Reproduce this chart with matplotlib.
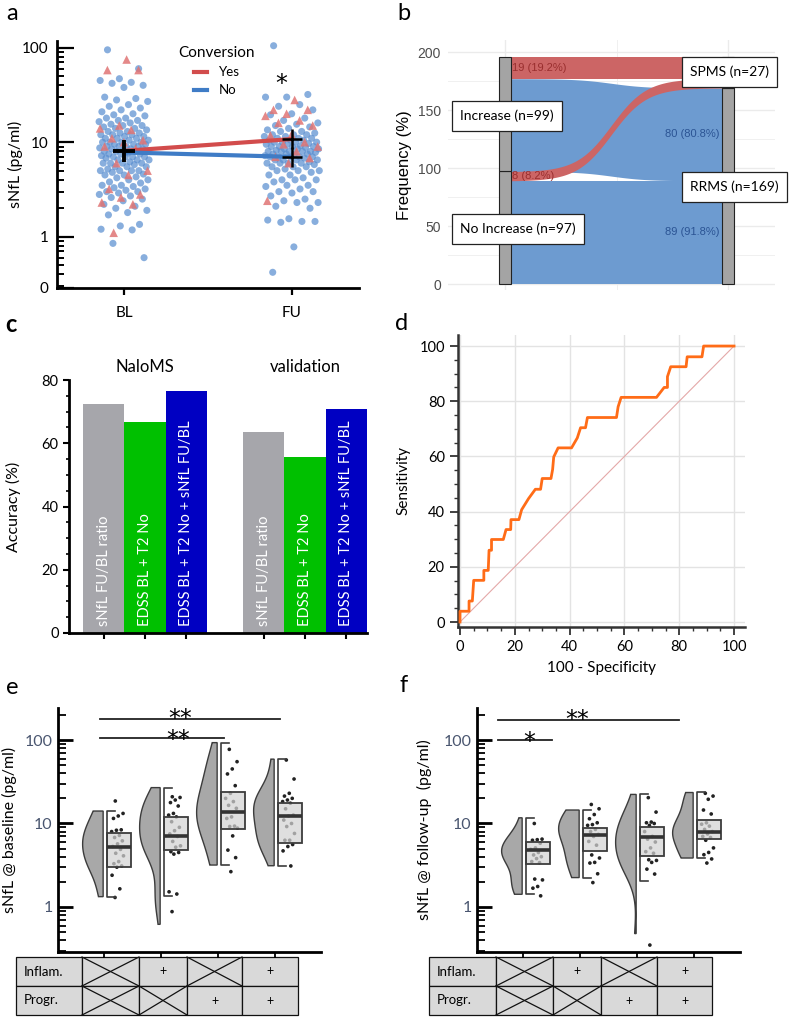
import numpy as np
import matplotlib
matplotlib.use('Agg')
import matplotlib.pyplot as plt
from matplotlib.lines import Line2D
from matplotlib.patches import Rectangle, Polygon
from matplotlib.ticker import LogLocator, NullFormatter, FixedLocator, MultipleLocator

plt.rcParams['font.family'] = ['Lato', 'DejaVu Sans']

# ---------------- panel a: sNfL at BL / FU by conversion
a_bl_no = [95, 60, 47, 45, 43, 42, 40, 38, 30, 29, 28, 27, 25, 24, 23, 22, 21, 20,
           19.5, 19, 18, 18, 17, 17, 16.5, 16, 15.5, 15, 15, 14.5, 14, 14, 13.5, 13,
           13, 12.5, 12.5, 12, 12, 12, 11.5, 11.5, 11, 11, 11, 10.5, 10.5, 10, 10, 10,
           10, 9.5, 9.5, 9.5, 9, 9, 9, 9, 8.7, 8.5, 8.5, 8.5, 8.2, 8, 8, 8, 8, 7.7,
           7.5, 7.5, 7.5, 7.2, 7, 7, 7, 7, 6.8, 6.5, 6.5, 6.5, 6.2, 6, 6, 6, 6, 5.8,
           5.5, 5.5, 5.5, 5.2, 5, 5, 5, 5, 4.8, 4.6, 4.5, 4.5, 4.3, 4.2, 4, 4, 3.8,
           3.7, 3.5, 3.5, 3.4, 3.3, 3.2, 3.1, 3, 3, 2.9, 2.8, 2.7, 2.6, 2.5, 2.4, 2.2,
           2.1, 2.0, 1.9, 1.8, 1.7, 1.35, 1.3, 1.2, 1.18, 0.85, 0.6]
a_bl_yes = [75, 58, 58, 15, 14, 13.5, 11, 10.5, 10, 9, 8.5, 6, 5, 4.5, 3.2, 2.8,
            2.6, 2.3, 2.2, 1.1]
a_fu_no = [105, 32, 30, 30, 25, 24, 22, 20, 19.5, 18, 17, 16, 15.5, 15, 14.5, 14,
           13.5, 13, 13, 12.5, 12, 12, 12, 11.5, 11.5, 11, 11, 11, 10.5, 10.5, 10.5,
           10, 10, 10, 10, 9.7, 9.5, 9.5, 9.2, 9, 9, 9, 9, 8.8, 8.5, 8.5, 8.5, 8.2, 8,
           8, 8, 8, 8, 7.8, 7.5, 7.5, 7.5, 7.5, 7.2, 7, 7, 7, 7, 7, 6.8, 6.5, 6.5,
           6.5, 6.5, 6.2, 6, 6, 6, 6, 5.8, 5.5, 5.5, 5.5, 5.2, 5, 5, 5, 4.8, 4.5, 4.5,
           4.2, 4, 4, 4, 3.8, 3.5, 3.5, 3.4, 3.2, 3, 3, 2.9, 2.7, 2.5, 2.4, 2.3, 2.3,
           2.1, 2.0, 1.55, 1.5, 1.45, 1.42, 1.45, 0.78, 0.42]
a_fu_yes = [28, 22, 22, 20, 19, 17, 16, 15, 12, 11.8, 10, 9.5, 9, 8, 7, 6.8, 6, 2.4]
a_times = ['BL', 'FU']
a_mean_yes = [8.1, 10.8]
a_mean_no = [7.8, 7.0]

# ---------------- panel b: alluvial
b_left = ['No Increase', 'Increase']
b_left_n = [97, 99]
b_right = ['RRMS', 'SPMS']
b_right_n = [169, 27]
b_flow_from = ['No Increase', 'No Increase', 'Increase', 'Increase']
b_flow_to = ['RRMS', 'SPMS', 'RRMS', 'SPMS']
b_flow_n = [89, 8, 80, 19]
b_flow_label = ['89 (91.8%)', '8 (8.2%)', '80 (80.8%)', '19 (19.2%)']

# ---------------- panel c: accuracy
c_groups = ['NaloMS', 'validation']
c_models = ['sNfL FU/BL ratio', 'EDSS BL + T2 No', 'EDSS BL + T2 No + sNfL FU/BL']
c_naloms = [72.4, 66.7, 76.5]
c_validation = [63.5, 55.6, 70.8]

# ---------------- panel d: ROC
roc_fpr = [0, 0, 3.3, 3.3, 4.5, 5.0, 8.7, 8.7, 10.3, 10.6, 11.5, 11.5, 15.8, 16.8,
           18.5, 18.6, 21.5, 22.5, 25, 27.5, 29.4, 30, 33.2, 33.8, 34.2, 35.8, 40.7,
           42.8, 44, 45.8, 46.5, 57.1, 57.7, 58.8, 71.7, 74.5, 75.7, 75.7, 76.9, 82.5,
           82.9, 88.3, 88.9, 100]
roc_tpr = [0, 3.9, 3.9, 7.6, 7.6, 15.1, 15.1, 18.7, 18.7, 26, 26, 29.9, 29.9, 33.5,
           33.5, 37.1, 37.1, 40.7, 44.7, 48.1, 48.1, 52, 52, 55.3, 59.8, 63.1, 63.1,
           66.7, 70.4, 70.4, 74.1, 74.1, 78, 81.4, 81.4, 85, 85, 88.9, 92.5, 92.5,
           96.1, 96.1, 100, 100]

# ---------------- panels e / f: raincloud per group
e_points = [
    [18.6, 13.2, 12.3, 11.5, 8.4, 8.3, 8.0, 7.2, 6.8, 6.2, 5.7, 5.3, 4.9, 4.4, 4.1,
     3.5, 3.3, 3.1, 3.0, 2.4, 1.65, 1.3],
    [20.9, 20.5, 19.1, 17.8, 16.2, 13.2, 12.6, 12.0, 10.5, 9.0, 8.2, 7.5, 7.0, 6.1,
     5.4, 5.2, 4.6, 4.5, 4.3, 1.52, 1.43, 0.88],
    [77.3, 55, 45, 39.2, 28.4, 23.0, 20.0, 18.3, 16.5, 15.2, 12.0, 11.5, 9.3, 9.2,
     8.8, 7.1, 4.8, 3.9, 2.65],
    [57.6, 34.1, 23.0, 21.3, 20.0, 19.1, 18.3, 17.5, 15.0, 12.6, 12.3, 11.0, 10.0,
     9.2, 7.6, 6.3, 6.3, 5.6, 5.3, 4.7, 3.1],
]
e_box = [(3.03, 5.27, 7.76, 1.33, 14.1), (4.82, 7.1, 11.8, 1.37, 26.9),
         (8.5, 13.8, 24.0, 3.18, 93), (5.78, 12.3, 17.5, 3.12, 59)]
e_violin_range = [(1.33, 14.1), (0.62, 26.9), (3.18, 93), (3.12, 59)]

f_points = [
    [10.0, 6.5, 6.4, 6.3, 5.8, 5.1, 4.9, 4.5, 4.2, 4.0, 3.8, 3.5, 3.4, 2.16, 2.11,
     1.76, 1.68, 1.36],
    [16.9, 15.0, 12.8, 11.4, 10.2, 9.7, 9.5, 8.5, 8.0, 7.4, 7.0, 6.1, 5.5, 4.2, 3.86,
     3.42, 3.36, 2.5, 1.96],
    [20.4, 13.7, 10.4, 10.2, 10.0, 9.5, 8.0, 7.0, 6.5, 6.0, 5.1, 4.6, 4.4, 3.68, 3.61,
     3.42, 2.84, 2.48, 0.35],
    [23.0, 21.3, 19.5, 14.5, 13.0, 10.2, 9.8, 9.3, 8.5, 8.0, 7.5, 7.0, 6.8, 6.3, 5.1,
     4.5, 4.23, 3.76, 3.36],
]
f_box = [(3.30, 4.86, 6.0, 1.42, 11.7), (4.63, 7.2, 8.9, 2.25, 14.5),
         (4.04, 6.9, 9.2, 2.07, 22.3), (6.54, 7.9, 11.1, 3.86, 23.8)]
f_violin_range = [(1.42, 11.7), (2.25, 14.5), (0.48, 22.3), (3.86, 23.5)]

table_rows = ['Inflam.', 'Progr.']
table_inflam = [False, True, False, True]
table_progr = [False, False, True, True]

W, H = 793, 1017
fig = plt.figure(figsize=(W / 100, H / 100), dpi=100)


def px_axes(x0, y0, x1, y1):
    return fig.add_axes([x0 / W, 1 - y1 / H, (x1 - x0) / W, (y1 - y0) / H])


def jitter(n, spread, phase=0.17):
    return ((np.arange(n) * 0.6180339887 + phase) % 1.0 - 0.5) * 2 * spread


RED = '#d24c4c'
BLUE = '#3f7cc6'
STAR = dict(family='DejaVu Sans', fontsize=17, ha='center', va='baseline',
            clip_on=False)

# ================= panel a
ax = px_axes(57, 41, 359, 287.7)
ax.set_yscale('log')
ylo_a = 0.2886
ax.set_ylim(ylo_a, 117.8)
ax.set_xlim(0.6, 2.4)
for k, (no, yes) in enumerate([(a_bl_no, a_bl_yes), (a_fu_no, a_fu_yes)]):
    sp = 0.15 if k == 0 else 0.165
    ax.scatter(k + 1 + jitter(len(no), sp), no, s=26, color='#5b8fd0', alpha=0.72,
               edgecolors='none', zorder=2)
    ax.scatter(k + 1 + jitter(len(yes), sp, 0.55), yes, s=38, marker='^',
               color='#e07474', alpha=0.85, edgecolors='none', zorder=2)
ax.plot([1, 2], a_mean_yes, color=RED, lw=3, zorder=3, solid_capstyle='butt')
ax.plot([1, 2], a_mean_no, color=BLUE, lw=3, zorder=3, solid_capstyle='butt')
ax.plot([1], [8.0], marker='+', ms=16, mew=2.8, color='black', zorder=4)
ax.plot([2, 2], [a_mean_yes[1], a_mean_no[1]], ls='none', marker='+', ms=14,
        mew=1.8, color='black', zorder=4)
ax.text(1.934, 34.8, '*', **STAR)
handles = [Line2D([], [], color=RED, lw=3), Line2D([], [], color=BLUE, lw=3)]
ax.legend(handles, ['Yes', 'No'], title='Conversion', loc='upper left',
          bbox_to_anchor=(0.385, 1.0), frameon=False, handlelength=1.0,
          fontsize=9.5, title_fontsize=11, handletextpad=0.9, labelspacing=0.45,
          borderaxespad=0)
for s in ['top', 'right']:
    ax.spines[s].set_visible(False)
for s in ['left', 'bottom']:
    ax.spines[s].set_linewidth(2)
ax.yaxis.set_major_locator(FixedLocator([ylo_a, 1, 10, 100]))
ax.set_yticklabels(['0', '1', '10', '100'])
ax.yaxis.set_minor_locator(LogLocator(base=10, subs=np.arange(2, 10), numticks=20))
ax.yaxis.set_minor_formatter(NullFormatter())
ax.tick_params(axis='y', which='major', direction='in', length=12, width=1.6,
               labelsize=11, pad=6)
ax.tick_params(axis='y', which='minor', direction='in', length=5, width=1.4)
ax.set_xticks([1, 2])
ax.set_xticklabels(a_times)
ax.tick_params(axis='x', direction='out', length=5, width=1.6, labelsize=11, pad=8)
ax.set_ylabel('sNfL (pg/ml)', fontsize=11.5)
ax.yaxis.set_label_coords(-0.112, 0.5)

# ================= panel b
bx = px_axes(448, 40.4, 775, 289.8)
bx.set_xlim(0.744, 2.211)
bx.set_ylim(-5.0, 210)
bx.set_yticks([0, 50, 100, 150, 200])
bx.set_yticks([25, 75, 125, 175], minor=True)
bx.set_xticks([1, 2])
bx.set_xticks([1.5], minor=True)
bx.grid(True, which='major', color='#ebebeb', lw=1.0)
bx.grid(True, which='minor', color='#f0f0f0', lw=0.7)
bx.set_axisbelow(True)
bx.set_xticklabels([])
bx.tick_params(which='both', length=0)
bx.tick_params(axis='y', labelsize=10, labelcolor='#4d4d4d', pad=5)
for lab in bx.get_yticklabels():
    lab.set_family('Liberation Sans')
for s in bx.spines.values():
    s.set_visible(False)
bx.set_ylabel('Frequency (%)', fontsize=12, family='Liberation Sans')
bx.yaxis.set_label_coords(-0.11, 0.5)


def stack(outer_order, outer_key, inner_key, inner_order):
    pos = {}
    y = 0
    for so in outer_order:
        for si in inner_order:
            for i in range(len(b_flow_n)):
                if outer_key[i] == so and inner_key[i] == si:
                    pos[i] = (y, y + b_flow_n[i])
                    y += b_flow_n[i]
    return pos


left_pos = stack(b_left, b_flow_from, b_flow_to, b_right)
right_pos = stack(b_right, b_flow_to, b_flow_from, b_left)
half = 0.027
x0f, x1f = 1 + half, 2 - half
t = np.linspace(0, 1, 200)
kk, t0 = 12.0, 0.476
raw = 1 / (1 + np.exp(-kk * (t - t0)))
sig = (raw - raw[0]) / (raw[-1] - raw[0])
xf = x0f + (x1f - x0f) * t
flow_col = {'RRMS': '#6d9bd0', 'SPMS': '#cc6565'}
for dest in ['RRMS', 'SPMS']:
    for i in range(len(b_flow_n)):
        if b_flow_to[i] != dest:
            continue
        l0, l1 = left_pos[i]
        r0, r1 = right_pos[i]
        lo = l0 + (r0 - l0) * sig
        hi = l1 + (r1 - l1) * sig
        bx.fill_between(xf, lo, hi, color=flow_col[dest], lw=0, zorder=2)
for i in range(len(b_flow_n)):
    if b_flow_to[i] == 'SPMS':
        l0, l1 = left_pos[i]
        bx.text(x0f + 0.006, (l0 + l1) / 2, b_flow_label[i], ha='left', va='center',
                fontsize=8, color='#9a2f2f', family='Liberation Sans', zorder=4)
    else:
        r0, r1 = right_pos[i]
        bx.text(x1f - 0.012, (r0 + r1) / 2, b_flow_label[i], ha='right', va='center',
                fontsize=8, color='#2b5494', family='Liberation Sans', zorder=4)
for xc, names, ns in [(1, b_left, b_left_n), (2, b_right, b_right_n)]:
    y = 0
    for nm, n in zip(names, ns):
        bx.add_patch(Rectangle((xc - half, y), 2 * half, n, facecolor='#a4a4a4',
                               edgecolor='#222222', lw=0.8, zorder=3))
        y += n
box_style = dict(boxstyle='square,pad=0.6', facecolor='white', edgecolor='#222222',
                 lw=0.9)
bx.text(0.80, 144.8, 'Increase (n=99)', ha='left', va='center', fontsize=10,
        bbox=box_style, zorder=5, clip_on=False)
bx.text(0.80, 47.4, 'No Increase (n=97)', ha='left', va='center', fontsize=10,
        bbox=box_style, zorder=5, clip_on=False)
bx.text(1.83, 182.8, 'SPMS (n=27)', ha='left', va='center', fontsize=10,
        bbox=box_style, zorder=5, clip_on=False)
bx.text(1.83, 83.6, 'RRMS (n=169)', ha='left', va='center', fontsize=10,
        bbox=box_style, zorder=5, clip_on=False)

# ================= panel c
cx = px_axes(69, 380, 367, 633)
cx.set_ylim(0, 80)
cx.set_xlim(-0.84, 6.38)
bar_pos = [0, 1, 2, 3.88, 4.88, 5.88]
bar_col = ['#a6a6ab', '#00c000', '#0000c2'] * 2
cx.bar(bar_pos, c_naloms + c_validation, width=1.0, color=bar_col, edgecolor='none')
for p, lab in zip(bar_pos, c_models * 2):
    cx.text(p, 2.2, lab, rotation=90, ha='center', va='bottom', color='white',
            fontsize=10.5)
cx.text(1, 84.1, c_groups[0], ha='center', va='center', fontsize=12, clip_on=False)
cx.text(4.88, 84.1, c_groups[1], ha='center', va='center', fontsize=12, clip_on=False)
for s in ['top', 'right']:
    cx.spines[s].set_visible(False)
for s in ['left', 'bottom']:
    cx.spines[s].set_linewidth(2)
cx.yaxis.set_major_locator(MultipleLocator(20))
cx.yaxis.set_minor_locator(MultipleLocator(5))
cx.tick_params(axis='y', which='major', length=4, width=1.5, labelsize=10.5)
cx.tick_params(axis='y', which='minor', length=2.5, width=1.2)
cx.set_xticks(bar_pos)
cx.set_xticklabels([])
cx.tick_params(axis='x', length=4, width=1.5)
cx.set_ylabel('Accuracy (%)', fontsize=11.5)
cx.yaxis.set_label_coords(-0.16, 0.5)

# ================= panel d
dx = px_axes(458, 335, 745, 626.7)
dx.set_xlim(-0.73, 104.0)
dx.set_ylim(-1.7, 104.0)
dx.plot([0, 100], [0, 100], color='#e4a8a8', lw=0.8, zorder=2)
dx.plot(roc_fpr, roc_tpr, color='#ff6c17', lw=2, zorder=3)
dx.xaxis.set_major_locator(MultipleLocator(20))
dx.xaxis.set_minor_locator(MultipleLocator(5))
dx.yaxis.set_major_locator(MultipleLocator(20))
dx.yaxis.set_minor_locator(MultipleLocator(5))
dx.grid(True, which='major', color='#e3e3e3', lw=1.0)
dx.set_axisbelow(True)
for s in ['top', 'right']:
    dx.spines[s].set_visible(False)
for s in ['left', 'bottom']:
    dx.spines[s].set_linewidth(1.8)
    dx.spines[s].set_color('#333333')
dx.tick_params(which='major', length=6, width=1.3, color='#333333', labelsize=10.5)
dx.tick_params(which='minor', length=3, width=1.0, color='#333333')
dx.set_ylabel('Sensitivity', fontsize=11)
dx.yaxis.set_label_coords(-0.165, 0.5)
dx.set_xlabel('100 - Specificity', fontsize=11, labelpad=5)


# ================= panels e / f
def raincloud(axr, points, boxes, vranges):
    for i, (pts, bst, vr) in enumerate(zip(points, boxes, vranges)):
        p = i + 1
        lv = np.log10(pts)
        grid = np.linspace(np.log10(vr[0]), np.log10(vr[1]), 150)
        bw = 1.06 * lv.std() * len(lv) ** (-0.2)
        dens = np.exp(-0.5 * ((grid[:, None] - lv[None, :]) / bw) ** 2).sum(1)
        w = dens / dens.max() * 0.36
        edge = p - 0.015
        verts = list(zip(edge - w, 10 ** grid)) + [(edge, vr[1]), (edge, vr[0])]
        axr.add_patch(Polygon(verts, closed=True, facecolor='#a8a8a8',
                              edgecolor='#3c3c3c', lw=1.0, zorder=2))
        q1, med, q3, wlo, whi = bst
        bl = p + 0.06
        axr.scatter(p + 0.24 + jitter(len(pts), 0.11, 0.31), pts, s=7, color='#222222',
                    edgecolors='none', zorder=3)
        axr.add_patch(Rectangle((bl, q1), 0.42, q3 - q1, facecolor='#d3d3d3',
                                alpha=0.72, edgecolor='none', zorder=4))
        axr.add_patch(Rectangle((bl, q1), 0.42, q3 - q1, facecolor='none',
                                edgecolor='#3c3c3c', lw=1.3, zorder=5))
        axr.plot([bl, bl + 0.42], [med, med], color='#333333', lw=2.6, zorder=6,
                 solid_capstyle='butt')
        axr.plot([bl + 0.13, bl, bl, bl + 0.13], [whi, whi, wlo, wlo],
                 color='#3c3c3c', lw=1.2, zorder=5)
    axr.set_yscale('log')
    axr.set_ylim(0.289, 241.7)
    axr.set_xlim(0.193, 4.807)
    for s in ['top', 'right']:
        axr.spines[s].set_visible(False)
    for s in ['left', 'bottom']:
        axr.spines[s].set_linewidth(2)
    axr.yaxis.set_major_locator(FixedLocator([1, 10, 100]))
    axr.set_yticklabels(['1', '10', '100'])
    axr.yaxis.set_minor_locator(LogLocator(base=10, subs=np.arange(2, 10), numticks=20))
    axr.yaxis.set_minor_formatter(NullFormatter())
    axr.tick_params(axis='y', which='major', direction='in', length=11, width=2,
                    labelsize=11.5, labelcolor='#4a5670', pad=4)
    axr.tick_params(axis='y', which='minor', direction='in', length=6, width=1.3)
    axr.set_xticks([1, 2, 3, 4])
    axr.set_xticklabels([])
    axr.tick_params(axis='x', length=4, width=1.3)


ex = px_axes(58, 708, 321, 952)
raincloud(ex, e_points, e_box, e_violin_range)
ex.set_ylabel('sNfL @ baseline (pg/ml)', fontsize=11.5)
ex.yaxis.set_label_coords(-0.155, 0.5)
ex.plot([0.93, 4.09], [178, 178], color='#222222', lw=1.3, clip_on=False)
ex.plot([0.93, 3.10], [105.7, 105.7], color='#222222', lw=1.3, clip_on=False)
ex.text(2.33, 146.6, '**', **STAR)
ex.text(2.31, 81.8, '**', **STAR)

fx = px_axes(477, 708, 740, 952)
raincloud(fx, f_points, f_box, f_violin_range)
fx.set_ylabel('sNfL @ follow-up  (pg/ml)', fontsize=11.5)
fx.yaxis.set_label_coords(-0.17, 0.5)
fx.plot([0.561, 3.74], [174, 174], color='#222222', lw=1.3, clip_on=False)
fx.plot([0.561, 1.51], [100, 100], color='#222222', lw=1.3, clip_on=False)
fx.text(1.956, 143.5, '**', **STAR)
fx.text(1.105, 77.9, '*', **STAR)

# ================= tables and panel letters (pixel overlay)
ov = fig.add_axes([0, 0, 1, 1], zorder=-1)
ov.set_xlim(0, W)
ov.set_ylim(H, 0)
ov.axis('off')


def draw_table(cols, rows_y):
    marks = [table_inflam, table_progr]
    for r in range(2):
        ya, yb = rows_y[r], rows_y[r + 1]
        for c in range(5):
            xa, xb = cols[c], cols[c + 1]
            ov.add_patch(Rectangle((xa, ya), xb - xa, yb - ya, facecolor='#d9d9d9',
                                   edgecolor='#111111', lw=0.9))
            if c == 0:
                ov.text(xa + 8, (ya + yb) / 2, table_rows[r], ha='left', va='center',
                        fontsize=9.5)
            elif marks[r][c - 1]:
                ov.text((xa + xb) / 2, (ya + yb) / 2, '+', ha='center', va='center',
                        fontsize=9)
            else:
                ov.plot([xa, xb], [ya, yb], color='#111111', lw=0.9)
                ov.plot([xa, xb], [yb, ya], color='#111111', lw=0.9)


draw_table([16, 82, 139, 187, 242, 298], [957, 986, 1015])
draw_table([429, 496, 553, 601, 657, 712], [957, 986, 1015])

for lab, x, y, wt in [('a', 12, 13, 'normal'), ('b', 404, 13, 'normal'),
                      ('c', 11, 325, 'bold'), ('d', 402, 323, 'normal'),
                      ('e', 12, 687, 'normal'), ('f', 404, 685, 'normal')]:
    ov.text(x, y, lab, ha='center', va='center', fontsize=17, fontweight=wt)

fig.savefig('out.png', dpi=100)
